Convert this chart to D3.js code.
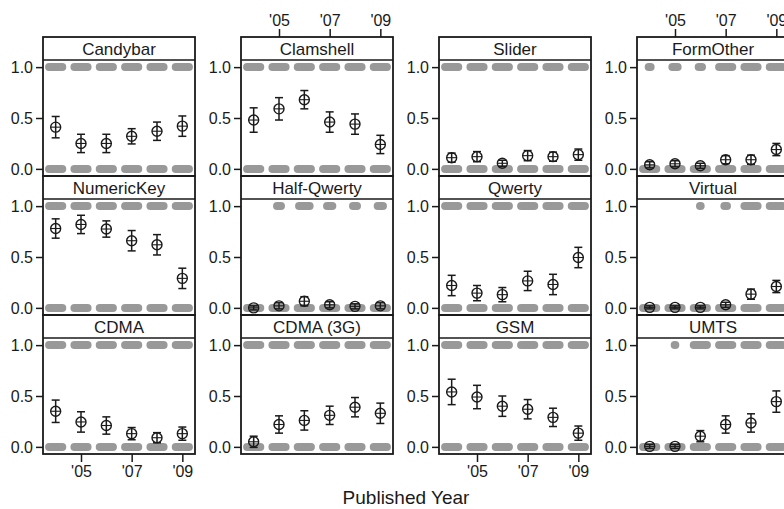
<!DOCTYPE html>
<html><head><meta charset="utf-8">
<script src="https://cdn.jsdelivr.net/npm/d3@7"></script>
<style>body{margin:0;background:#fff}svg{display:block}</style>
</head><body>
<script>
const years = [2004, 2005, 2006, 2007, 2008, 2009];
const tickYears = [2005, 2007, 2009];
const tickLabels = ["'05", "'07", "'09"];
const yTicks = [0, 0.5, 1];
const panelNames = ["Candybar","Clamshell","Slider","FormOther","NumericKey","Half-Qwerty","Qwerty","Virtual","CDMA","CDMA (3G)","GSM","UMTS"];

// estimated proportions (circles) per year
const mCandybar   = [0.41, 0.25, 0.25, 0.32, 0.37, 0.42];
const mClamshell  = [0.48, 0.59, 0.68, 0.46, 0.44, 0.24];
const mSlider     = [0.11, 0.12, 0.055, 0.13, 0.12, 0.14];
const mFormOther  = [0.04, 0.05, 0.03, 0.09, 0.09, 0.19];
const mNumericKey = [0.78, 0.82, 0.775, 0.66, 0.62, 0.29];
const mHalfQwerty = [0.0, 0.02, 0.065, 0.03, 0.015, 0.02];
const mQwerty     = [0.22, 0.145, 0.13, 0.265, 0.23, 0.495];
const mVirtual    = [0.005, 0.005, 0.005, 0.03, 0.135, 0.21];
const mCDMA       = [0.35, 0.245, 0.21, 0.13, 0.09, 0.13];
const mCDMA3G     = [0.05, 0.22, 0.26, 0.31, 0.39, 0.33];
const mGSM        = [0.54, 0.49, 0.40, 0.37, 0.29, 0.135];
const mUMTS       = [0.005, 0.005, 0.105, 0.22, 0.235, 0.445];

// error bar half-widths
const eCandybar   = [0.105, 0.09, 0.09, 0.075, 0.09, 0.10];
const eClamshell  = [0.12, 0.11, 0.09, 0.10, 0.10, 0.09];
const eSlider     = [0.045, 0.05, 0.03, 0.05, 0.045, 0.055];
const eFormOther  = [0.03, 0.03, 0.025, 0.04, 0.045, 0.06];
const eNumericKey = [0.095, 0.09, 0.08, 0.10, 0.10, 0.10];
const eHalfQwerty = [0.02, 0.03, 0.045, 0.03, 0.025, 0.03];
const eQwerty     = [0.10, 0.075, 0.07, 0.095, 0.10, 0.10];
const eVirtual    = [0.015, 0.015, 0.015, 0.025, 0.05, 0.06];
const eCDMA       = [0.11, 0.10, 0.085, 0.06, 0.05, 0.065];
const eCDMA3G     = [0.055, 0.085, 0.095, 0.09, 0.095, 0.10];
const eGSM        = [0.125, 0.115, 0.10, 0.095, 0.09, 0.07];
const eUMTS       = [0.02, 0.02, 0.055, 0.085, 0.09, 0.105];

// relative spread of the raw observations at 1 (null = none); at 0 all full
const full = [1, 1, 1, 1, 1, 1];
const sFormOther  = [0.15, 0.4, 0.25, 1, 1, 1];
const sHalfQwerty = [null, 0.3, 0.8, 0.4, 0.3, 0.4];
const sVirtual    = [null, null, 0.05, 0.2, 1, 1];
const sUMTS       = [null, 0.05, 1, 1, 1, 1];

const means = [mCandybar,mClamshell,mSlider,mFormOther,mNumericKey,mHalfQwerty,mQwerty,mVirtual,mCDMA,mCDMA3G,mGSM,mUMTS];
const errs  = [eCandybar,eClamshell,eSlider,eFormOther,eNumericKey,eHalfQwerty,eQwerty,eVirtual,eCDMA,eCDMA3G,eGSM,eUMTS];
const tops  = [full,full,full,sFormOther,full,sHalfQwerty,full,sVirtual,full,full,full,sUMTS];
const bottoms = panelNames.map(() => full);

const W = 784, H = 509;
const FONT = "'Liberation Sans', Arial, sans-serif";
const ink = "#1a1a1a";
const svg = d3.select("body").append("svg").attr("width", W).attr("height", H)
  .style("font-family", FONT);

const colLeft = c => 43 + c * 198;
const panelW = 152, stripH = 23, plotH = 116, rowTop = r => 37 + r * 139;
const grey = "#999999";

panelNames.forEach((name, i) => {
  const r = Math.floor(i / 4), c = i % 4;
  const x0 = colLeft(c), top = rowTop(r), py = top + stripH;
  const x = d3.scaleLinear().domain([2003.5, 2009.5]).range([x0, x0 + panelW]);
  const y = d3.scaleLinear().domain([-0.07, 1.07]).range([py + plotH, py]);
  const g = svg.append("g");

  // raw observation clusters
  const unit = x(2005) - x(2004);
  const drawCluster = (spreads, v) => {
    years.forEach((yr, k) => {
      const s = spreads[k];
      if (s === null) return;
      const half = s * unit * 0.26;
      g.append("line")
        .attr("x1", x(yr) - half).attr("x2", x(yr) + half)
        .attr("y1", y(v)).attr("y2", y(v))
        .attr("stroke", grey).attr("stroke-width", 8).attr("stroke-linecap", "round");
    });
  };
  drawCluster(tops[i], 1);
  drawCluster(bottoms[i], 0);

  // error bars + points
  years.forEach((yr, k) => {
    const m = means[i][k], e = errs[i][k];
    const cx = x(yr);
    g.append("line").attr("x1", cx).attr("x2", cx).attr("y1", y(m - e)).attr("y2", y(m + e))
      .attr("stroke", ink).attr("stroke-width", 1.5);
    [m - e, m + e].forEach(v => g.append("line").attr("x1", cx - 4).attr("x2", cx + 4)
      .attr("y1", y(v)).attr("y2", y(v)).attr("stroke", ink).attr("stroke-width", 1.5));
    g.append("circle").attr("cx", cx).attr("cy", y(m)).attr("r", 5)
      .attr("fill", "none").attr("stroke", ink).attr("stroke-width", 1.4);
    g.append("line").attr("x1", cx - 5).attr("x2", cx + 5).attr("y1", y(m)).attr("y2", y(m))
      .attr("stroke", ink).attr("stroke-width", 1.1);
  });

  // panel border & strip
  g.append("rect").attr("x", x0).attr("y", top).attr("width", panelW).attr("height", stripH + plotH)
    .attr("fill", "none").attr("stroke", ink).attr("stroke-width", 1.8);
  g.append("line").attr("x1", x0).attr("x2", x0 + panelW).attr("y1", py).attr("y2", py)
    .attr("stroke", ink).attr("stroke-width", 1.6);
  g.append("text").attr("x", x0 + panelW / 2).attr("y", top + stripH / 2 + 6)
    .attr("text-anchor", "middle").attr("font-size", 17).attr("fill", ink).text(name);

  // y axis
  const ya = d3.axisLeft(y).tickValues(yTicks).tickFormat(d3.format(".1f")).tickSize(7).tickPadding(3);
  const yg = g.append("g").attr("transform", `translate(${x0},0)`).call(ya);
  yg.select(".domain").remove();
  yg.selectAll("line").attr("stroke", ink).attr("stroke-width", 1.5);
  yg.selectAll("text").attr("font-size", 16).attr("fill", ink).style("font-family", FONT);

  // x axes: top on cols 1,3 of first row; bottom on cols 0,2 of last row
  const fmt = d => tickLabels[tickYears.indexOf(d)];
  const styleAxis = xg => {
    xg.select(".domain").remove();
    xg.selectAll("line").attr("stroke", ink).attr("stroke-width", 1.5);
    xg.selectAll("text").attr("font-size", 16).attr("fill", ink).style("font-family", FONT);
  };
  if (r === 0 && c % 2 === 1) {
    const xa = d3.axisTop(x).tickValues(tickYears).tickFormat(fmt).tickSize(8).tickPadding(3);
    styleAxis(g.append("g").attr("transform", `translate(0,${top})`).call(xa));
  }
  if (r === 2 && c % 2 === 0) {
    const xa = d3.axisBottom(x).tickValues(tickYears).tickFormat(fmt).tickSize(8).tickPadding(4);
    styleAxis(g.append("g").attr("transform", `translate(0,${py + plotH})`).call(xa));
  }
});

svg.append("text").attr("x", 406).attr("y", 504).attr("text-anchor", "middle")
  .attr("font-size", 19).attr("fill", ink).text("Published Year");
</script>
</body></html>
